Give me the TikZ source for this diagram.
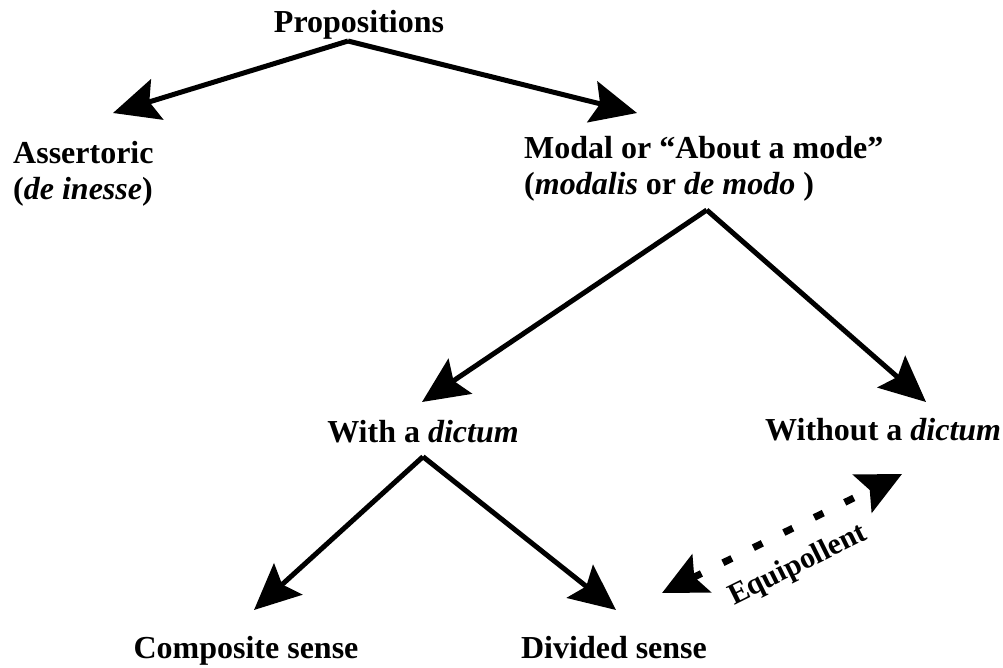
\documentclass[tikz,border=0pt]{standalone}
\usepackage{fontspec}
\setmainfont{Liberation Serif}
\usetikzlibrary{arrows.meta, positioning, calc}

\begin{document}
\begin{tikzpicture}[x=1pt, y=-1pt,
    txt/.style={font=\fontsize{32}{35.5}\selectfont\bfseries, inner sep=2pt, align=left},
    branch/.style={line width=5pt, -{Stealth[length=46pt, width=42pt, inset=8pt]}},
    equi/.style={line width=7pt, dash pattern=on 10pt off 24pt,
      {Stealth[length=44pt, width=42pt, inset=8pt]}-{Stealth[length=44pt, width=42pt, inset=8pt]}}]
      \useasboundingbox (0,0) rectangle (1003,667);

      \node[txt, anchor=base] (prop) at (359,32) {Propositions};
      \node[txt, anchor=base west] (assert) at (11,199) {Assertoric\\(\textit{de inesse})};
      \node[txt, anchor=base west] (modal) at (522,194) {Modal or ``About a mode''\\(\textit{modalis} or \textit{de modo} )};
      \node[txt, anchor=base] (with) at (423,442) {With a \textit{dictum}};
      \node[txt, anchor=base west] (without) at (763,440) {Without a \textit{dictum}};
      \node[txt, anchor=base] (comp) at (246,658) {Composite sense};
      \node[txt, anchor=base] (div) at (614,658) {Divided sense};

      \coordinate (assert-in) at (113,113);
      \coordinate (modal-in) at (637,113);
      \coordinate (with-in) at (422,402);
      \coordinate (without-in) at (926,402);
      \coordinate (comp-in) at (254,610);
      \coordinate (div-in) at (616,610);
      \coordinate (div-side) at (662,593);
      \coordinate (without-side) at (902,474);

      \draw[branch] ([xshift=-11pt]prop.south) -- (assert-in);
      \draw[branch] ([xshift=-11pt]prop.south) -- (modal-in);
      \draw[branch] ([xshift=3pt, yshift=-7pt]modal.south) -- (with-in);
      \draw[branch] ([xshift=3pt, yshift=-7pt]modal.south) -- (without-in);
      \draw[branch] ([yshift=-12pt]with.south) -- (comp-in);
      \draw[branch] ([yshift=-12pt]with.south) -- (div-in);

      \draw[equi] (div-side) -- (without-side)
        node[pos=0.5, sloped, below=18pt, font=\fontsize{30}{32}\selectfont\bfseries, inner sep=1pt] (equilab) {Equipollent};
\end{tikzpicture}
\end{document}
